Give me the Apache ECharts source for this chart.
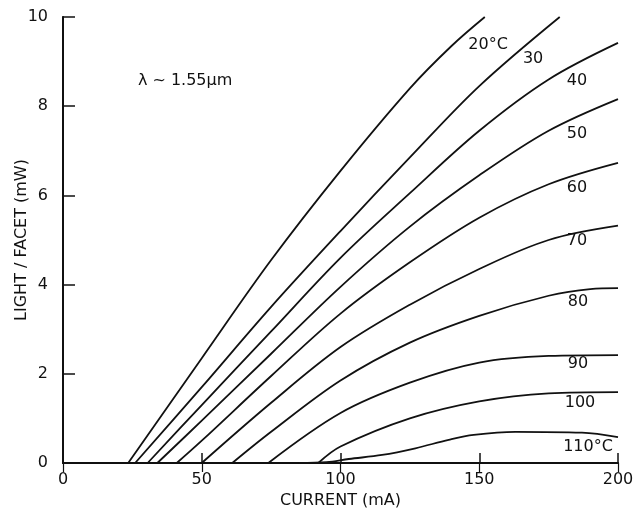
<!DOCTYPE html>
<html>
<head>
<meta charset="utf-8">
<script src="https://cdn.jsdelivr.net/npm/echarts@6/dist/echarts.min.js"></script>
<style>
html,body{margin:0;padding:0;background:#fff;}
#c{width:635px;height:511px;}
</style>
</head>
<body>
<div id="c"></div>
<script>
// ---- data (current mA, light mW) ----
var t20  = [[23.5,0],[50,2.35],[75,4.55],[100,6.55],[125,8.4],[140,9.35],[152,10]];
var t30  = [[26,0],[50,1.7],[75,3.5],[100,5.2],[125,6.85],[150,8.45],[179,10]];
var t40  = [[30.5,0],[50,1.3],[75,2.95],[100,4.6],[125,6.05],[150,7.45],[175,8.6],[200,9.42]];
var t50  = [[34,0],[50,0.95],[75,2.45],[100,3.95],[125,5.3],[150,6.45],[175,7.45],[200,8.16]];
var t60  = [[41,0],[50,0.5],[75,1.95],[100,3.35],[125,4.5],[150,5.5],[175,6.25],[200,6.73]];
var t70  = [[50,0],[75,1.35],[100,2.6],[125,3.55],[150,4.35],[175,5.0],[200,5.32]];
var t80  = [[61,0],[75,0.7],[100,1.85],[125,2.7],[150,3.3],[175,3.75],[190,3.9],[200,3.92]];
var t90  = [[74,0],[100,1.12],[125,1.8],[150,2.25],[175,2.4],[200,2.42]];
var t100 = [[92,0],[100,0.37],[125,1.0],[150,1.38],[175,1.56],[200,1.59]];
var t110 = [[85,0],[95,0.02],[103,0.09],[115,0.18],[127,0.33],[139,0.52],[148,0.63],[163,0.7],[187,0.68],[200,0.58]];
var curves = [t20,t30,t40,t50,t60,t70,t80,t90,t100,t110];

// curve labels: text and anchor in data units
var labelTexts = ['20°C','30','40','50','60','70','80','90','100','110°C','λ ~ 1.55μm'];
var labelX = [153.2,169.4,185.2,185.2,185.2,185.2,185.6,185.6,186.3,189.2,44];
var labelY = [9.37,9.06,8.57,7.38,6.17,4.98,3.61,2.22,1.35,0.36,8.57];

var xMin = 0, xMax = 200, xStep = 50;
var yMin = 0, yMax = 10, yStep = 2;
var xTitle = 'CURRENT (mA)';
var yTitle = 'LIGHT / FACET (mW)';

var FONT = 'DejaVu Sans';
var INK = '#111';

var chart = echarts.init(document.getElementById('c'), null, {renderer:'canvas'});

var series = curves.map(function(d){
  return {type:'line', data:d, smooth:0.35, symbol:'none', silent:true,
    lineStyle:{color:INK, width:1.8}, clip:true};
});
series.push({
  type:'scatter', symbolSize:0, silent:true,
  itemStyle:{opacity:1},
  data: labelTexts.map(function(t,i){ return {name:t, value:[labelX[i], labelY[i]]}; }),
  label:{show:true, position:'inside', formatter:'{b}', color:INK, opacity:1, fontFamily:FONT, fontSize:16}
});

chart.setOption({
  animation:false,
  backgroundColor:'#fff',
  grid:{left:63, right:17, top:17, bottom:48, containLabel:false, outerBoundsMode:'none'},
  xAxis:[{
    type:'value', min:xMin, max:xMax, interval:xStep, position:'bottom',
    name:xTitle, nameLocation:'middle', nameGap:30, nameMoveOverlap:false,
    nameTextStyle:{color:INK, fontFamily:FONT, fontSize:16},
    axisLine:{show:true, lineStyle:{color:INK, width:2}},
    axisTick:{show:true, inside:true, length:10, lineStyle:{color:INK, width:1.5}},
    axisLabel:{color:INK, fontFamily:FONT, fontSize:16, margin:9},
    splitLine:{show:false}
  },{
    type:'value', min:xMin, max:xMax, interval:xStep, position:'top',
    axisLine:{show:true, lineStyle:{color:INK, width:1.5}},
    axisTick:{show:true, inside:true, length:9, lineStyle:{color:INK, width:1.2}},
    axisLabel:{show:false}, splitLine:{show:false}
  }],
  yAxis:[{
    type:'value', min:yMin, max:yMax, interval:yStep, position:'left',
    name:yTitle, nameLocation:'middle', nameGap:33, nameRotate:90, nameMoveOverlap:false,
    nameTextStyle:{color:INK, fontFamily:FONT, fontSize:16},
    axisLine:{show:true, lineStyle:{color:INK, width:2}},
    axisTick:{show:true, inside:true, length:12, lineStyle:{color:INK, width:1.5}},
    axisLabel:{color:INK, fontFamily:FONT, fontSize:16, margin:15},
    splitLine:{show:false}
  },{
    type:'value', min:yMin, max:yMax, interval:yStep, position:'right',
    axisLine:{show:true, lineStyle:{color:INK, width:1.5}},
    axisTick:{show:false}, axisLabel:{show:false}, splitLine:{show:false}
  }],
  series:series
});
</script>
</body>
</html>
